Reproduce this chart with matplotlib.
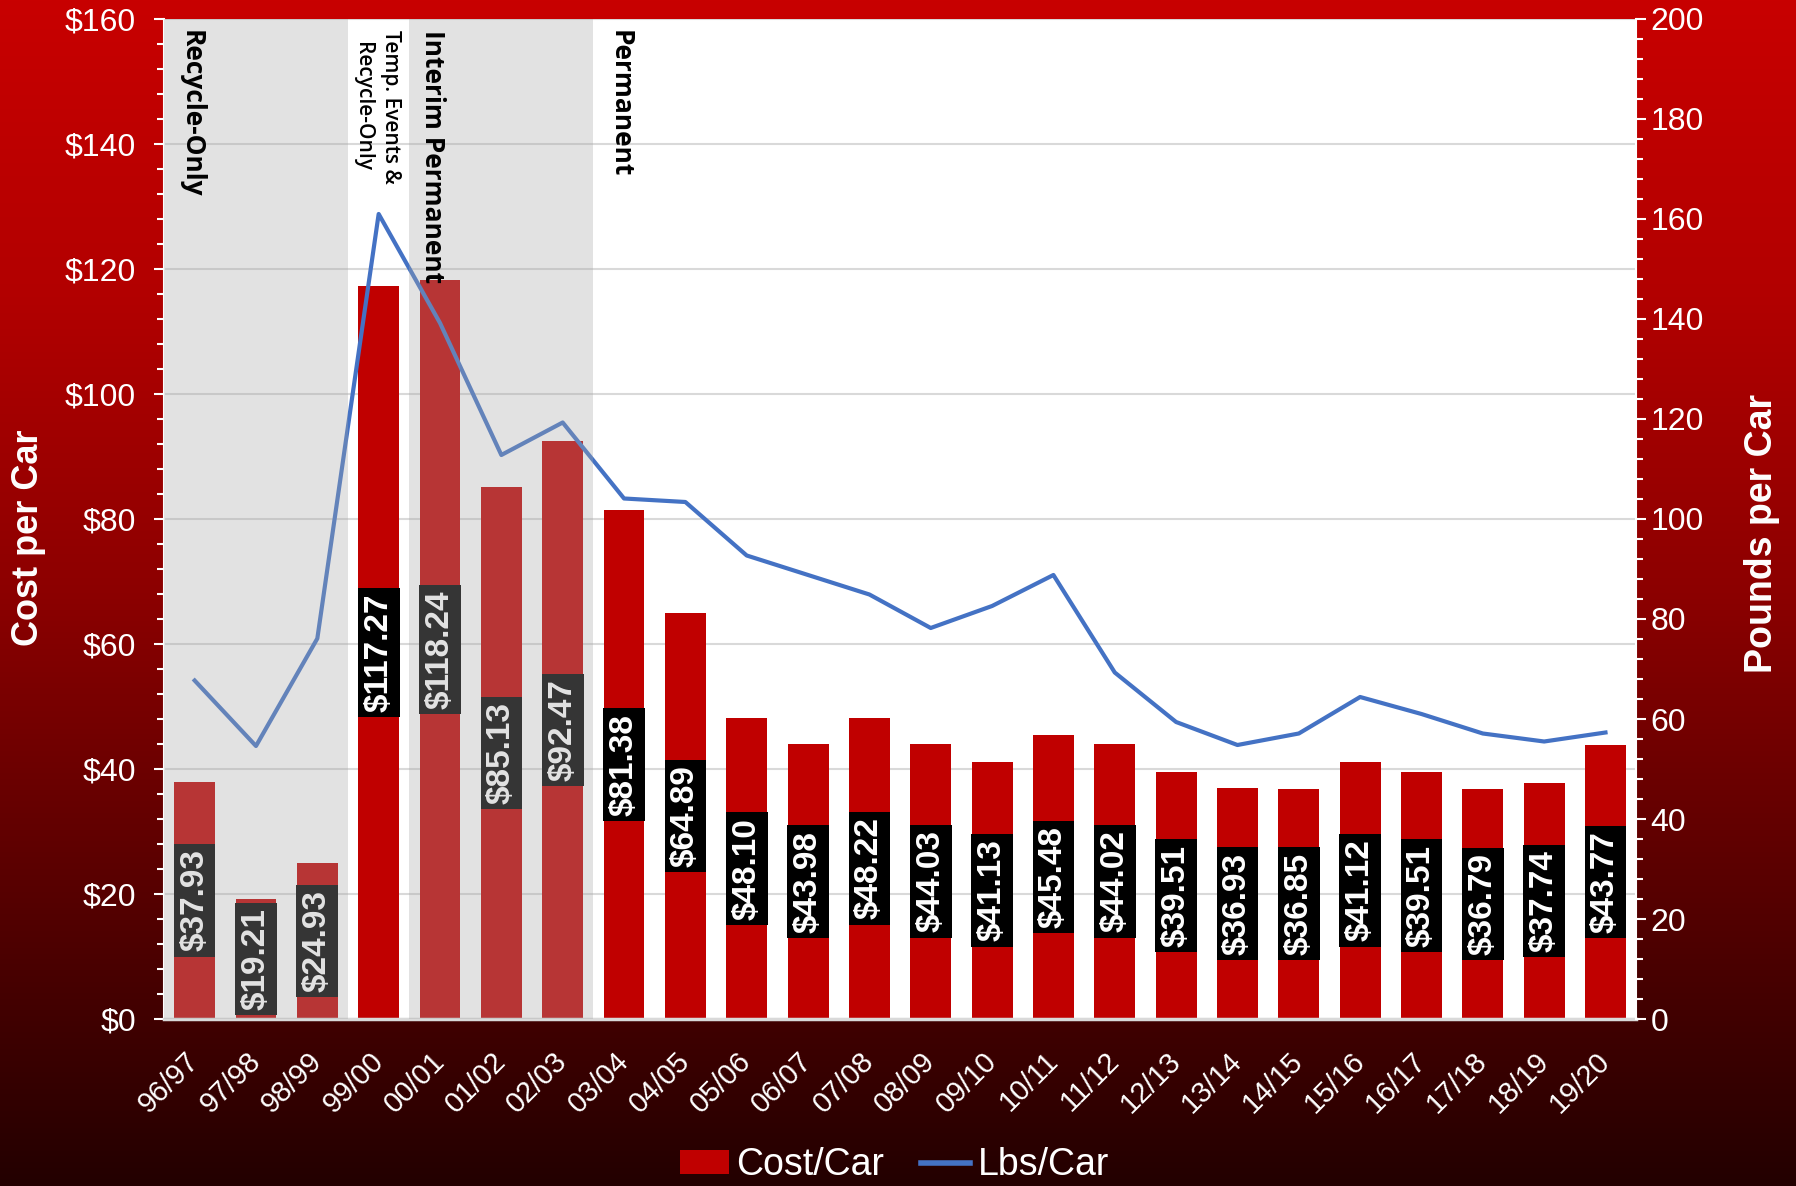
import numpy as np
import matplotlib
matplotlib.use("Agg")
import matplotlib.pyplot as plt
from matplotlib.patches import Patch
from matplotlib.lines import Line2D
from matplotlib.ticker import MultipleLocator, FuncFormatter
from matplotlib.transforms import ScaledTranslation

# ---------------- data ----------------
years = ["96/97", "97/98", "98/99", "99/00", "00/01", "01/02", "02/03", "03/04",
         "04/05", "05/06", "06/07", "07/08", "08/09", "09/10", "10/11", "11/12",
         "12/13", "13/14", "14/15", "15/16", "16/17", "17/18", "18/19", "19/20"]
cost_per_car = [37.93, 19.21, 24.93, 117.27, 118.24, 85.13, 92.47, 81.38,
                64.89, 48.10, 43.98, 48.22, 44.03, 41.13, 45.48, 44.02,
                39.51, 36.93, 36.85, 41.12, 39.51, 36.79, 37.74, 43.77]
lbs_per_car = [67.7, 54.6, 76.1, 161.0, 139.2, 112.8, 119.3, 104.1,
               103.4, 92.7, 88.8, 84.9, 78.2, 82.6, 88.8, 69.3,
               59.4, 54.8, 57.1, 64.4, 61.0, 57.1, 55.5, 57.3]
phase_labels = ["Recycle-Only", "Temp. Events &\nRecycle-Only", "Interim Permanent", "Permanent"]
phase_pos = [-0.05, 2.965, 3.88, 6.93]
shaded_spans = [(-0.5, 2.5), (3.5, 6.5)]

RED = "#C00000"
BLUE = "#4472C4"
FONT = ["Liberation Sans", "DejaVu Sans"]
plt.rcParams["font.family"] = FONT

fig = plt.figure(figsize=(17.96, 11.86), dpi=100)

# background gradient
bg = fig.add_axes([0, 0, 1, 1], zorder=-10)
ys = np.linspace(0, 1, 400)
stops_y = [0.0, 0.25, 0.5, 1.0]
stops_r = [200, 178, 140, 35]
r = np.interp(ys, stops_y, stops_r) / 255.0
grad = np.zeros((400, 2, 3))
grad[:, :, 0] = r[:, None]
bg.imshow(grad, aspect="auto", extent=[0, 1, 0, 1], origin="upper")
bg.set_axis_off()

ax = fig.add_axes([0.0913, 0.1408, 0.8197, 0.8432])
ax.set_facecolor("white")
x = np.arange(len(years))
ax.bar(x, cost_per_car, width=0.667, color=RED, zorder=2)
ax.set_xlim(-0.5, len(years) - 0.5)
ax.set_ylim(0, 160)
ax.yaxis.set_major_locator(MultipleLocator(20))
ax.yaxis.set_minor_locator(MultipleLocator(4))
ax.yaxis.set_major_formatter(FuncFormatter(lambda v, p: f"${v:.0f}"))
ax.grid(axis="y", color="#D9D9D9", lw=1.5, zorder=0)
ax.set_axisbelow(True)
ax.set_xticks(x)
ax.set_xticklabels(years, rotation=45, ha="right", va="top", rotation_mode="anchor",
                   fontsize=21, color="white")
ax.tick_params(axis="x", length=0, pad=20)
shift = ScaledTranslation(-7 / 72, 0, fig.dpi_scale_trans)
for lab in ax.get_xticklabels():
    lab.set_transform(lab.get_transform() + shift)
ax.tick_params(axis="y", which="major", colors="white", labelsize=23, length=7, width=1.5, pad=13)
ax.tick_params(axis="y", which="minor", colors="white", length=5, width=1.5)
ax.spines["top"].set_visible(False)
ax.spines["bottom"].set_color("#D9D9D9")
ax.spines["bottom"].set_linewidth(2.5)
ax.spines["left"].set_color("white")
ax.spines["left"].set_linewidth(1.5)
ax.spines["right"].set_visible(False)

for xi, v in zip(x, cost_per_car):
    ax.text(xi, v / 2, f"${v:.2f}", rotation=90, ha="center", va="center",
            fontsize=24, fontweight="bold", color="white", zorder=3,
            bbox=dict(boxstyle="square,pad=0.16", facecolor="black", edgecolor="none"))

ax2 = ax.twinx()
ax2.plot(x, lbs_per_car, color=BLUE, lw=3, zorder=2, solid_joinstyle="round")
ax2.set_ylim(0, 200)
ax2.yaxis.set_major_locator(MultipleLocator(20))
ax2.yaxis.set_minor_locator(MultipleLocator(4))
ax2.tick_params(axis="y", which="major", colors="white", labelsize=23, length=7, width=1.5)
ax2.tick_params(axis="y", which="minor", colors="white", length=5, width=1.5)
ax2.spines["top"].set_visible(False)
ax2.spines["left"].set_visible(False)
ax2.spines["bottom"].set_visible(False)
ax2.spines["right"].set_color("white")
ax2.spines["right"].set_linewidth(1.5)

for a, b in shaded_spans:
    ax2.axvspan(a, b, color=(0.655, 0.655, 0.655), alpha=0.32, lw=0, zorder=3)

trans = ax2.get_xaxis_transform()
for lab, px in zip(phase_labels, phase_pos):
    if "\n" in lab:
        ax2.text(px, 0.989, lab, transform=trans, rotation=270, ha="center", va="top",
                 fontsize=15, fontweight="semibold", family=["Open Sans", "DejaVu Sans"],
                 color="black", zorder=5, linespacing=1.4)
    else:
        ax2.text(px, 0.989, lab, transform=trans, rotation=270, ha="center", va="top",
                 fontsize=19, fontweight="bold", family=["Open Sans", "DejaVu Sans"],
                 color="black", zorder=5)

fig.text(0.016, 0.547, "Cost per Car", rotation=90, ha="center", va="center",
         fontsize=26, fontweight="bold", color="white")
fig.text(0.981, 0.55, "Pounds per Car", rotation=90, ha="center", va="center",
         fontsize=27, fontweight="bold", color="white")

handles = [Patch(facecolor=RED, edgecolor="none"), Line2D([0], [0], color=BLUE, lw=4)]
fig.legend(handles, ["Cost/Car", "Lbs/Car"], loc="lower center", bbox_to_anchor=(0.498, -0.026),
           ncol=2, frameon=False, fontsize=27, labelcolor="white", handlelength=1.3,
           handleheight=0.6, handletextpad=0.2, columnspacing=1.0)

fig.savefig("out.png", dpi=100)
